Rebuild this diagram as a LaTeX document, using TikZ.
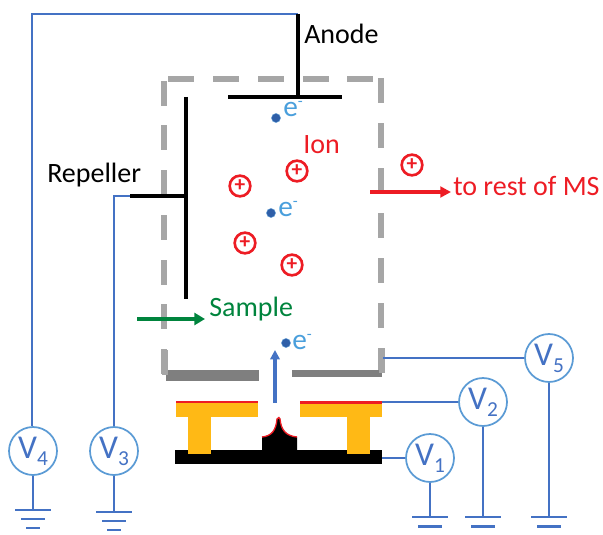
\documentclass[tikz,border=0pt]{standalone}
\usepackage{fontspec}
\setmainfont{Carlito}
\usetikzlibrary{arrows.meta}
\definecolor{wireblue}{HTML}{4472C4}
\definecolor{ringblue}{HTML}{5B9BD5}
\definecolor{elec}{HTML}{2F5FA8}
\definecolor{elabel}{HTML}{4A9FDC}
\definecolor{ionred}{HTML}{ED1C24}
\definecolor{dashgray}{HTML}{A6A6A6}
\definecolor{basegray}{HTML}{7F7F7F}
\definecolor{gold}{HTML}{FFB915}
\definecolor{samplegreen}{HTML}{00843D}
\tikzset{
 x=0.75pt,y=-0.75pt,
 meter/.style={circle,draw=ringblue,line width=1.3pt,fill=white,minimum size=36pt,inner sep=0pt,text=wireblue,font=\fontsize{25}{27}\selectfont},
 wire/.style={draw=wireblue,line width=1.7pt},
 thinwire/.style={draw=wireblue,line width=1.2pt},
 plate/.style={draw=black,line width=2.8pt},
 dashseg/.style={draw=dashgray,line width=4.4pt},
 ion/.style={circle,draw=ionred,line width=2pt,minimum size=15.5pt,inner sep=0pt,text=ionred,font=\fontsize{16}{16}\selectfont\bfseries},
 elecdot/.style={circle,fill=elec,draw=ringblue,line width=0.3pt,minimum size=6.8pt,inner sep=0pt},
 elab/.style={text=elabel,font=\fontsize{22}{24}\selectfont,inner sep=0pt},
 lbl/.style={font=\fontsize{21}{23}\selectfont,inner sep=0pt},
}
\newcommand{\groundat}[2]{%
 \draw[wire] (#1-18,#2) -- (#1+18,#2);
 \draw[wire] (#1-12,#2+9) -- (#1+12,#2+9);
 \draw[wire] (#1-7,#2+18) -- (#1+7,#2+18);}
\newcommand{\vsub}[1]{V\raisebox{-0.45ex}{\fontsize{16}{16}\selectfont #1}}
\newcommand{\esup}{e\raisebox{7.5pt}{\fontsize{12}{12}\selectfont -}}
\begin{document}
\begin{tikzpicture}
\useasboundingbox (0,0) rectangle (603,535);
% dashed chamber
\foreach \a in {168,213,258,303,347} \draw[dashseg] (\a,79) -- (\a+26,79);
\foreach \a in {81,125,170,215,260,304,349} \draw[dashseg] (164,\a) -- (164,\a+25);
\foreach \a in {78,123,168,213,258,303,348} \draw[dashseg] (381,\a) -- (381,\a+25);
% exit plate
\fill[basegray] (165.5,370) rectangle (259,381);
\fill[basegray] (292,370) rectangle (382,377);
\fill[dashgray] (161.5,350) rectangle (168,375);
\fill[dashgray] (379,348) rectangle (385,373);
% wires
\coordinate (anodeTop) at (298,14);
\coordinate (anodeFoot) at (298,97);
\coordinate (anodeCorner) at (32,14);
\coordinate (repTip) at (130,196);
\coordinate (repJoin) at (186,196);
\coordinate (v3Corner) at (114,196);
\node[meter] (v4) at (33,451) {\vsub{4}};
\node[meter] (v3) at (114,451) {\vsub{3}};
\node[meter] (v5) at (549,358) {\vsub{5}};
\node[meter] (v2) at (483,402) {\vsub{2}};
\node[meter] (v1) at (430,458) {\vsub{1}};
\coordinate (g4) at (33,510);
\coordinate (g3) at (114,512);
\coordinate (g1) at (430,517);
\coordinate (g2) at (483,517);
\coordinate (g5) at (549,517);
\coordinate (p5) at (383,358);
\coordinate (p2) at (382,402);
\coordinate (p1) at (382,458);
\draw[wire] (anodeTop) -- (anodeCorner) -- (v4.north -| anodeCorner);
\draw[thinwire] (repTip) -- (v3Corner) -- (v3.north);
\draw[wire] (v4) -- (g4);
\draw[wire] (v3) -- (g3);
\draw[wire] (v5) -- (g5);
\draw[wire] (v2) -- (g2);
\draw[wire] (v1) -- (g1);
\draw[wire] (p5) -- (v5);
\draw[wire] (p2) -- (v2);
\draw[wire] (p1) -- (v1);
\groundat{33}{510}
\groundat{114}{512}
\draw[wire] (412,517) -- (448,517); \draw[wire] (418,526.5) -- (442,526.5);
\draw[wire] (465,517) -- (501,517); \draw[wire] (471,526.5) -- (495,526.5);
\draw[wire] (531,517) -- (567,517); \draw[wire] (537,526.5) -- (561,526.5);
% plates
\draw[plate] (anodeTop) -- (anodeFoot);
\draw[plate] (228,97) -- (342,97);
\draw[plate] (186,97) -- (186,299);
\draw[plate] (repTip) -- (repJoin);
% lens and source
\fill[black] (175,450) rectangle (382,464);
\fill[gold] (176,402) rectangle (258,417);
\fill[gold] (188,417) rectangle (211,454);
\fill[gold] (300,402) rectangle (382,417);
\fill[gold] (347,417) rectangle (370,454);
\fill[ionred] (176,401) rectangle (258,403);
\fill[ionred] (300,401) rectangle (382,404);
\fill[black] (262,451) -- (262,437) .. controls (272,436) and (276,430) .. (277,419) -- (280,418) .. controls (281,430) and (286,436) .. (297,437) -- (297,451) -- cycle;
\draw[ionred,line width=1pt] (262,437) .. controls (272,436) and (276,430) .. (277,419) .. controls (278,417) and (280,417) .. (280,419) .. controls (281,430) and (286,436) .. (297,437);
% electron beam arrow
\coordinate (beamA) at (275,403);
\coordinate (beamB) at (275,350);
\draw[wire,line width=2.4pt,-{Triangle[length=7pt,width=7pt]}] (beamA) -- (beamB);
% ions
\node[ion] (i1) at (240,186) {+};
\node[ion] (i2) at (297,171) {+};
\node[ion] (i3) at (245,243) {+};
\node[ion] (i4) at (292,265) {+};
\node[ion] (i5) at (412,165) {+};
% electrons
\node[elecdot] (e1) at (276,118) {};
\node[elecdot] (e2) at (271,213) {};
\node[elecdot] (e3) at (286,343) {};
\node[elab,anchor=base west] (e1l) at (283,117) {\esup};
\node[elab,anchor=base west] (e2l) at (278,216) {\esup};
\node[elab,anchor=base west] (e3l) at (292,349) {\esup};
% labels
\node[lbl,anchor=base west] (anode) at (304,44) {Anode};
\node[lbl,anchor=base west] (rep) at (47,182) {Repeller};
\node[lbl,anchor=base west,text=ionred] (ionl) at (303,153) {Ion};
\node[lbl,anchor=base west,text=ionred] (rest) at (453,195) {to rest of MS};
\node[lbl,anchor=base west,text=samplegreen] (sample) at (209,316) {Sample};
\coordinate (outA) at (370,192);
\coordinate (outB) at (451,192);
\coordinate (inA) at (137,319);
\coordinate (inB) at (205,319);
\draw[ionred,line width=2.3pt,-{Triangle[length=8pt,width=8pt]}] (outA) -- (outB);
\draw[samplegreen,line width=3pt,-{Triangle[length=8pt,width=9pt]}] (inA) -- (inB);
\end{tikzpicture}
\end{document}
